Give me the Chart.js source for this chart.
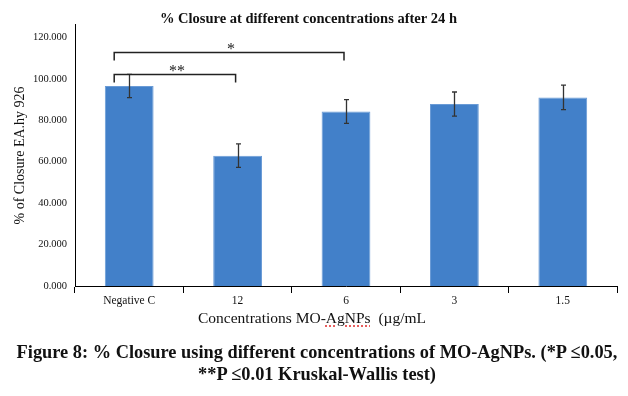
<!DOCTYPE html>
<html>
<head>
<meta charset="utf-8">
<script src="https://cdn.jsdelivr.net/npm/chart.js@4"></script>
<style>
  html, body { margin: 0; padding: 0; background: #fff; }
  #wrap { position: relative; width: 628px; height: 396px; overflow: hidden; }
  #c { position: absolute; left: 0; top: 0; }
  .txt { position: absolute; font-family: "Liberation Serif", "DejaVu Serif", serif; color: #111; white-space: nowrap; }
  #xtitle { left: 198px; top: 309px; font-size: 15.5px; }
  #xtitle .sp { text-decoration: underline dotted #e03030; text-underline-offset: 3px; }
  .cap { font-weight: bold; font-size: 19.5px; left: 317px; transform-origin: 50% 50%; }
  #cap1 { top: 341px; }
  #cap2 { top: 363px; }
</style>
</head>
<body>
<div id="wrap">
  <canvas id="c" width="628" height="396"></canvas>
  <div id="xtitle" class="txt">Concentrations MO-<span class="sp">AgNPs</span>&nbsp; (µg/mL</div>
  <div id="cap1" class="txt cap">Figure 8: % Closure using different concentrations of MO-AgNPs. (*P ≤0.05,</div>
  <div id="cap2" class="txt cap">**P ≤0.01 Kruskal-Wallis test)</div>
</div>
<script>
// ---- data ----
const categories = ['Negative C', '12', '6', '3', '1.5'];
const closure    = [96.5, 62.9, 84.2, 87.8, 91.0];
const closureErr = [5.6, 5.7, 5.7, 5.8, 5.9];
const yTickValues = [0, 20, 40, 60, 80, 100, 120];
const yMax = 126;
// significance brackets: [from category index, to category index]
const bracketPairs  = [[0, 1], [0, 2]];
const bracketLabels = ['**', '*'];
const bracketLevels = [102.4, 113];

// ---- styles ----
const SERIF = '"Liberation Serif", "DejaVu Serif", serif';
const BAR_COLOR = '#4280c9';

const errorBarPlugin = {
  id: 'errorBars',
  afterDatasetsDraw(chart) {
    const ctx = chart.ctx;
    const meta = chart.getDatasetMeta(0);
    const y = chart.scales.y;
    ctx.save();
    ctx.strokeStyle = '#333';
    ctx.lineWidth = 1.3;
    meta.data.forEach((bar, i) => {
      const v = closure[i], e = closureErr[i];
      const x = Math.round(bar.x) + 0.5;
      const yt = y.getPixelForValue(v + e), yb = y.getPixelForValue(v - e);
      ctx.beginPath();
      ctx.moveTo(x, yt); ctx.lineTo(x, yb);
      ctx.moveTo(x - 2.5, yt); ctx.lineTo(x + 2.5, yt);
      ctx.moveTo(x - 2.5, yb); ctx.lineTo(x + 2.5, yb);
      ctx.stroke();
    });
    ctx.restore();
  }
};

const bracketPlugin = {
  id: 'brackets',
  afterDraw(chart) {
    const ctx = chart.ctx;
    const meta = chart.getDatasetMeta(0);
    const y = chart.scales.y;
    const hook = 8, leftShift = 15;
    ctx.save();
    ctx.strokeStyle = '#222';
    ctx.fillStyle = '#222';
    ctx.lineWidth = 1.5;
    ctx.font = '16px ' + SERIF;
    ctx.textAlign = 'center';
    ctx.textBaseline = 'alphabetic';
    bracketPairs.forEach((p, i) => {
      const x1 = meta.data[p[0]].x - leftShift;
      const x2 = meta.data[p[1]].x - 2;
      const yy = Math.round(y.getPixelForValue(bracketLevels[i])) + 0.5;
      ctx.beginPath();
      ctx.moveTo(x1, yy + hook);
      ctx.lineTo(x1, yy);
      ctx.lineTo(x2, yy);
      ctx.lineTo(x2, yy + hook);
      ctx.stroke();
      ctx.fillText(bracketLabels[i], (x1 + x2) / 2 + 2, yy + 1);
    });
    ctx.restore();
  }
};

new Chart(document.getElementById('c'), {
  type: 'bar',
  data: {
    labels: categories,
    datasets: [{
      data: closure,
      backgroundColor: BAR_COLOR,
      borderColor: '#6a9bd6',
      borderWidth: 1,
      barPercentage: 0.9,
      categoryPercentage: 0.5
    }]
  },
  options: {
    responsive: false,
    animation: false,
    devicePixelRatio: 1,
    layout: { padding: { left: 0, right: 11, top: 0, bottom: 61 } },
    plugins: {
      legend: { display: false },
      tooltip: { enabled: false },
      title: {
        display: true,
        text: '% Closure at different concentrations after 24 h',
        color: '#111',
        font: { family: SERIF, size: 14.5, weight: 'bold', lineHeight: 0.75 },
        padding: { top: 14, bottom: 0 }
      }
    },
    scales: {
      x: {
        afterFit(s) { s.height = 49; },
        grid: { display: true, drawOnChartArea: false, drawTicks: true, tickLength: 7, color: '#000', offset: true },
        border: { display: true, color: '#000', width: 1 },
        ticks: { color: '#111', font: { family: SERIF, size: 11.5 }, padding: 1, maxRotation: 0 }
      },
      y: {
        min: 0,
        max: yMax,
        afterFit(s) { s.width = 75; },
        afterBuildTicks(s) { s.ticks = yTickValues.map(v => ({ value: v })); },
        grid: { display: false, drawTicks: false },
        border: { display: true, color: '#000', width: 1 },
        ticks: {
          color: '#111',
          font: { family: SERIF, size: 10.5 },
          padding: 8,
          callback: v => Number(v).toFixed(3)
        },
        title: {
          display: true,
          text: '% of Closure EA.hy 926',
          color: '#111',
          font: { family: SERIF, size: 14 },
          padding: { top: 12, bottom: 2 }
        }
      }
    }
  },
  plugins: [errorBarPlugin, bracketPlugin]
});

// fit caption lines to their measured widths in the figure
function fitCaption(id, targetWidth) {
  const el = document.getElementById(id);
  const w = el.getBoundingClientRect().width;
  const s = targetWidth / w;
  el.style.transform = 'translateX(-50%) scaleX(' + s.toFixed(3) + ')';
  el.style.transformOrigin = '50% 50%';
}
fitCaption('cap1', 601);
fitCaption('cap2', 238);
</script>
</body>
</html>
